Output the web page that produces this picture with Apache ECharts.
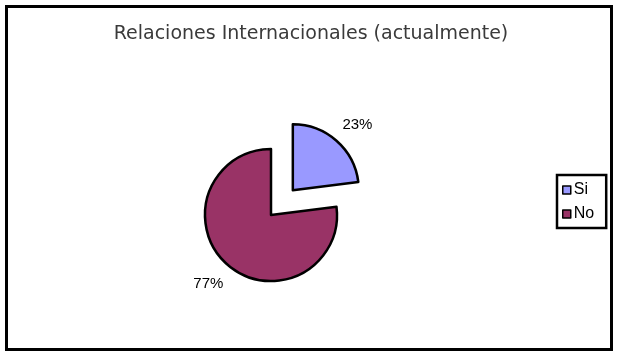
<!DOCTYPE html>
<html><head><meta charset="utf-8">
<script src="https://cdn.jsdelivr.net/npm/echarts@6/dist/echarts.min.js"></script>
<style>html,body{margin:0;padding:0;background:#fff}#c{width:622px;height:357px}</style>
</head><body><div id="c"></div>
<script>
const titleText = 'Relaciones Internacionales (actualmente)';
const categories = ['Si', 'No'];
const values = [23, 77];
const colors = ['#9999FF', '#993366'];

const chart = echarts.init(document.getElementById('c'), null, {renderer: 'canvas'});
chart.setOption({
  animation: false,
  backgroundColor: '#fff',
  title: {
    text: titleText, left: 'center', top: 20,
    textStyle: {fontFamily: 'DejaVu Sans, sans-serif', fontSize: 19, fontWeight: 'normal', color: '#3a3a3a'}
  },
  legend: {
    orient: 'vertical', left: 557, top: 175,
    padding: [7, 12, 6, 5], itemGap: 8,
    borderColor: '#000', borderWidth: 2.5,
    icon: 'rect', itemWidth: 8, itemHeight: 8,
    itemStyle: {borderColor: '#000', borderWidth: 1.5},
    textStyle: {fontFamily: 'Liberation Sans, Arial, sans-serif', fontSize: 16, color: '#000', padding: [0,0,0,-2]},
    data: categories, selectedMode: false
  },
  graphic: [{
    type: 'rect', shape: {x: 6.5, y: 6.5, width: 605, height: 343},
    style: {fill: null, stroke: '#000', lineWidth: 3}, silent: true
  }],
  series: [{
    type: 'pie', center: [271, 215], radius: 66,
    startAngle: 90, clockwise: true,
    selectedMode: 'single', selectedOffset: 33,
    itemStyle: {borderColor: '#000', borderWidth: 2.5},
    label: {
      show: true, position: 'outside', formatter: '{d}%',
      fontFamily: 'Liberation Sans, Arial, sans-serif', fontSize: 15, color: '#000'
    },
    labelLine: {show: false, length: 6, length2: 0},
    labelLayout: function (p) {
      return p.dataIndex === 0 ? {dx: -3, dy: -11} : {dx: 5, dy: 15};
    },
    emphasis: {disabled: true},
    data: categories.map((c, i) => ({name: c, value: values[i], selected: i === 0, itemStyle: {color: colors[i]}}))
  }]
});
</script></body></html>
